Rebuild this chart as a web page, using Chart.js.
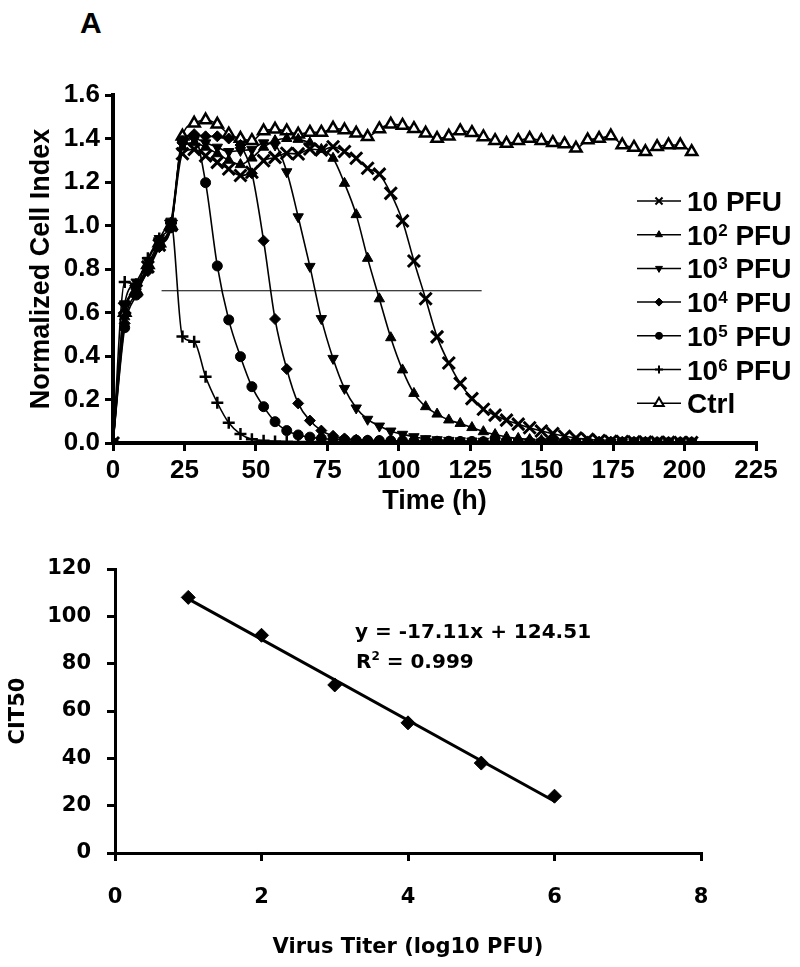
<!DOCTYPE html>
<html lang="en">
<head>
<meta charset="UTF-8">
<title>Cell index kinetics and CIT50 vs virus titer</title>
<script src="https://cdn.jsdelivr.net/npm/chart.js"></script>
<style>
  body { margin: 0; background: #fff; }
  .page { position: relative; width: 800px; height: 967px; overflow: hidden; background: #fff; }
  .panel { position: absolute; left: 0; }
  .tag { position: absolute; left: 80px; top: 8px; font: bold 30px 'Liberation Sans', Arial, sans-serif; line-height: 30px; }
  .eq { position: absolute; font: bold 20px 'DejaVu Sans', sans-serif; line-height: 24px; white-space: nowrap; }
  .eq sup { font-size: 12px; vertical-align: 8px; line-height: 0; }
</style>
</head>
<body>
<div class="page">
  <div class="tag">A</div>
  <canvas id="cellChart" class="panel" style="top:0" width="800" height="530"></canvas>
  <canvas id="titerChart" class="panel" style="top:540px" width="800" height="427"></canvas>
  <div class="eq" id="eqLine" style="left:355px;top:619px"></div>
  <div class="eq" id="eqR2" style="left:356px;top:649px"></div>
</div>

<script>
  // top panel: normalized cell index over time (hours)
  const timeHours = [
    0, 4.1, 8.1, 12.2, 16.2, 20.3, 24.3, 28.4, 32.4, 36.5,
    40.5, 44.6, 48.6, 52.7, 56.7, 60.8, 64.8, 68.9, 72.9, 77.0,
    81.0, 85.1, 89.1, 93.2, 97.2, 101.3, 105.3, 109.4, 113.4, 117.5,
    121.5, 125.6, 129.6, 133.7, 137.7, 141.8, 145.8, 149.9, 153.9, 158.0,
    162.0, 166.1, 170.1, 174.2, 178.2, 182.3, 186.3, 190.4, 194.4, 198.5,
    202.5
  ];
  const pfu1e1 = [
    0, 0.62, 0.70, 0.81, 0.91, 1.00, 1.33, 1.35, 1.32, 1.29,
    1.26, 1.23, 1.245, 1.298, 1.313, 1.332, 1.329, 1.352, 1.347, 1.362,
    1.34, 1.309, 1.263, 1.236, 1.148, 1.021, 0.837, 0.663, 0.488, 0.368,
    0.274, 0.204, 0.155, 0.128, 0.105, 0.087, 0.07, 0.055, 0.043, 0.031,
    0.023, 0.017, 0.011, 0.008, 0.006, 0.005, 0.004, 0.003, 0.003, 0.002,
    0.002
  ];
  const pfu1e2 = [
    0, 0.58, 0.72, 0.80, 0.91, 1.01, 1.36, 1.38, 1.36, 1.33,
    1.30, 1.28, 1.31, 1.36, 1.39, 1.40, 1.396, 1.38, 1.35, 1.309,
    1.194, 1.05, 0.849, 0.663, 0.484, 0.336, 0.228, 0.167, 0.133, 0.106,
    0.09, 0.071, 0.052, 0.039, 0.027, 0.021, 0.016, 0.012, 0.009, 0.007,
    0.006, 0.005, 0.004, 0.004, 0.003, 0.003, 0.003, 0.002, 0.002, 0.002,
    0.002
  ];
  const pfu1e3 = [
    0, 0.64, 0.74, 0.84, 0.94, 1.02, 1.38, 1.40, 1.38, 1.36,
    1.34, 1.345, 1.35, 1.38, 1.37, 1.247, 1.04, 0.812, 0.572, 0.389,
    0.251, 0.161, 0.109, 0.078, 0.055, 0.04, 0.029, 0.02, 0.015, 0.012,
    0.01, 0.009, 0.008, 0.007, 0.006, 0.006, 0.005, 0.005, 0.004, 0.004,
    0.004, 0.003, 0.003, 0.003, 0.003, 0.002, 0.002, 0.002, 0.002, 0.002,
    0.002
  ];
  const pfu1e4 = [
    0, 0.55, 0.69, 0.79, 0.90, 0.99, 1.38, 1.42, 1.41, 1.41,
    1.40, 1.37, 1.24, 0.93, 0.57, 0.34, 0.182, 0.103, 0.057, 0.033,
    0.021, 0.015, 0.012, 0.01, 0.009, 0.008, 0.008, 0.007, 0.007, 0.006,
    0.006, 0.005, 0.005, 0.005, 0.004, 0.004, 0.004, 0.004, 0.003, 0.003,
    0.003, 0.003, 0.003, 0.002, 0.002, 0.002, 0.002, 0.002, 0.002, 0.002,
    0.002
  ];
  const pfu1e5 = [
    0, 0.53, 0.68, 0.80, 0.91, 0.99, 1.39, 1.41, 1.197, 0.814,
    0.566, 0.397, 0.259, 0.167, 0.098, 0.057, 0.037, 0.027, 0.021, 0.017,
    0.015, 0.013, 0.012, 0.011, 0.01, 0.01, 0.009, 0.009, 0.008, 0.008,
    0.007, 0.007, 0.006, 0.006, 0.006, 0.005, 0.005, 0.005, 0.004, 0.004,
    0.004, 0.004, 0.003, 0.003, 0.003, 0.003, 0.003, 0.002, 0.002, 0.002,
    0.002
  ];
  const pfu1e6 = [
    0, 0.74, 0.73, 0.85, 0.94, 1.01, 0.49, 0.466, 0.305, 0.185,
    0.093, 0.041, 0.017, 0.01, 0.007, 0.006, 0.005, 0.005, 0.005, 0.004,
    0.004, 0.004, 0.004, 0.003, 0.003, 0.003, 0.003, 0.003, 0.003, 0.002,
    0.002, 0.002, 0.002, 0.002, 0.002, 0.002, 0.002, 0.002, 0.001, 0.001,
    0.001, 0.001, 0.001, 0.001, 0.001, 0.001, 0.001, 0.001, 0.001, 0.001,
    0.001
  ];
  const ctrl = [
    0, 0.60, 0.70, 0.82, 0.92, 1.00, 1.41, 1.47, 1.485, 1.465,
    1.42, 1.40, 1.39, 1.434, 1.442, 1.434, 1.419, 1.428, 1.428, 1.447,
    1.439, 1.424, 1.408, 1.444, 1.465, 1.46, 1.445, 1.424, 1.40, 1.41,
    1.435, 1.427, 1.407, 1.39, 1.377, 1.39, 1.40, 1.39, 1.381, 1.375,
    1.355, 1.393, 1.40, 1.411, 1.37, 1.359, 1.339, 1.362, 1.37, 1.37,
    1.339
  ];
  const seriesLabels = ['10 PFU', '10² PFU', '10³ PFU', '10⁴ PFU', '10⁵ PFU', '10⁶ PFU', 'Ctrl'];
  const cutoffTimes = [17, 129];
  const cutoffLevel = 0.7;
  const timeTicks = [0, 25, 50, 75, 100, 125, 150, 175, 200, 225];

  // bottom panel: CIT50 against log10 titer
  const titerLog = [1, 2, 3, 4, 5, 6];
  const cit50 = [108, 92, 71, 55, 38, 24];
  const trendSlope = -17.11;
  const trendIntercept = 124.51;
  const trendR2 = 0.999;

  const ARIAL = "'Liberation Sans', Arial, sans-serif";
  const CALIB = "'DejaVu Sans', sans-serif";

  // marker look per series, same order as seriesLabels
  const markerStyles = [
    { style: 'crossRot', radius: 8.5, width: 3, fill: '#000', legendRadius: 5 },
    { style: 'triangle', radius: 6, width: 1, fill: '#000', legendRadius: 4 },
    { style: 'triangle', radius: 6, width: 1, fill: '#000', rotation: 180, legendRadius: 4 },
    { style: 'rectRot', radius: 5.5, width: 1, fill: '#000', legendRadius: 4 },
    { style: 'circle', radius: 5, width: 1, fill: '#000', legendRadius: 3.5 },
    { style: 'cross', radius: 6, width: 2.5, fill: '#000', legendRadius: 4 },
    { style: 'triangle', radius: 6.5, width: 2.5, fill: '#fff', legendRadius: 5.5 }
  ];

  const allSeries = [pfu1e1, pfu1e2, pfu1e3, pfu1e4, pfu1e5, pfu1e6, ctrl];

  function toPoints(xs, ys) {
    return xs.map((x, i) => ({ x: x, y: ys[i] }));
  }

  const cellSets = allSeries.map((vals, i) => {
    const m = markerStyles[i];
    return {
      label: seriesLabels[i],
      data: toPoints(timeHours, vals),
      borderColor: '#000',
      borderWidth: 1.6,
      pointStyle: m.style,
      pointRotation: m.rotation || 0,
      pointRadius: m.radius,
      pointBorderWidth: m.width,
      pointBorderColor: '#000',
      pointBackgroundColor: m.fill,
      cubicInterpolationMode: 'monotone',
      fill: false,
      legendRadius: m.legendRadius,
      inLegend: true
    };
  });
  cellSets.push({
    label: 'cutoff',
    data: cutoffTimes.map(t => ({ x: t, y: cutoffLevel })),
    borderColor: '#000',
    borderWidth: 1.2,
    pointRadius: 0,
    fill: false
  });

  // legend drawn inside the plot, with real superscripts
  const supDigits = { '²': '2', '³': '3', '⁴': '4', '⁵': '5', '⁶': '6' };
  const sideLegend = {
    id: 'sideLegend',
    afterDraw(chart) {
      const ctx = chart.ctx;
      const sets = chart.data.datasets.filter(d => d.inLegend);
      sets.forEach((ds, i) => {
        const y = 201 + i * 33.7;
        ctx.save();
        ctx.strokeStyle = '#000';
        ctx.lineWidth = 1.5;
        ctx.beginPath();
        ctx.moveTo(637, y);
        ctx.lineTo(681, y);
        ctx.stroke();
        ctx.fillStyle = ds.pointBackgroundColor;
        ctx.lineWidth = Math.min(ds.pointBorderWidth, 2);
        Chart.helpers.drawPoint(ctx, {
          pointStyle: ds.pointStyle,
          rotation: ds.pointRotation,
          radius: ds.legendRadius,
          borderWidth: ctx.lineWidth
        }, 659, y);
        ctx.fillStyle = '#000';
        ctx.textBaseline = 'alphabetic';
        ctx.textAlign = 'left';
        let cx = 687;
        const base = y + 10;
        ds.label.split(/([²³⁴⁵⁶])/).forEach(part => {
          if (!part) return;
          if (supDigits[part]) {
            ctx.font = 'bold 17px ' + ARIAL;
            ctx.fillText(supDigits[part], cx, base - 9);
            cx += ctx.measureText(supDigits[part]).width;
          } else {
            ctx.font = 'bold 28px ' + ARIAL;
            ctx.fillText(part, cx, base);
            cx += ctx.measureText(part).width;
          }
        });
        ctx.restore();
      });
    }
  };

  function fixedWidth(w) { return scale => { scale.width = w; }; }
  function fixedHeight(h) { return scale => { scale.height = h; }; }

  new Chart(document.getElementById('cellChart'), {
    type: 'line',
    data: { datasets: cellSets },
    plugins: [sideLegend],
    options: {
      responsive: false,
      animation: false,
      layout: { padding: { top: 95, right: 44, left: 0, bottom: 0 } },
      plugins: { legend: { display: false }, tooltip: { enabled: false } },
      scales: {
        x: {
          type: 'linear',
          min: 0, max: 225,
          afterFit: fixedHeight(87),
          afterBuildTicks: scale => { scale.ticks = timeTicks.map(v => ({ value: v })); },
          ticks: { color: '#000', font: { family: ARIAL, size: 26, weight: 'bold' }, padding: 4, maxRotation: 0 },
          grid: { drawOnChartArea: false, drawTicks: true, tickLength: 8, lineWidth: 3, color: '#000' },
          border: { display: true, width: 4, color: '#000' },
          title: { display: true, text: 'Time (h)', color: '#000', font: { family: ARIAL, size: 27, weight: 'bold' }, padding: { bottom: 12 } }
        },
        y: {
          min: 0, max: 1.6,
          afterFit: fixedWidth(113),
          ticks: { stepSize: 0.2, color: '#000', font: { family: ARIAL, size: 26, weight: 'bold' }, padding: 5,
                   callback: v => v.toFixed(1) },
          grid: { drawOnChartArea: false, drawTicks: true, tickLength: 8, lineWidth: 3, color: '#000' },
          border: { display: true, width: 4, color: '#000' },
          title: { display: true, text: 'Normalized Cell Index', color: '#000', font: { family: ARIAL, size: 27, weight: 'bold' }, padding: { top: 25 } }
        }
      }
    }
  });

  const trendX = [titerLog[0], titerLog[titerLog.length - 1]];

  new Chart(document.getElementById('titerChart'), {
    type: 'scatter',
    data: {
      datasets: [
        {
          label: 'CIT50',
          data: toPoints(titerLog, cit50),
          pointStyle: 'rectRot',
          pointRadius: 7,
          pointBackgroundColor: '#000',
          pointBorderColor: '#000',
          pointBorderWidth: 1
        },
        {
          label: 'Linear fit',
          type: 'line',
          data: trendX.map(x => ({ x: x, y: trendSlope * x + trendIntercept })),
          borderColor: '#000',
          borderWidth: 3,
          pointRadius: 0,
          fill: false
        }
      ]
    },
    options: {
      responsive: false,
      animation: false,
      layout: { padding: { top: 29, right: 99, left: 0, bottom: 0 } },
      plugins: { legend: { display: false }, tooltip: { enabled: false } },
      scales: {
        x: {
          type: 'linear',
          min: 0, max: 8,
          afterFit: fixedHeight(114),
          ticks: { stepSize: 2, color: '#000', font: { family: CALIB, size: 21, weight: 'bold' }, padding: 24 },
          grid: { drawOnChartArea: false, drawTicks: true, tickLength: 8, lineWidth: 3, color: '#000' },
          border: { display: true, width: 3, color: '#000' },
          title: { display: true, text: 'Virus Titer (log10 PFU)', color: '#000', font: { family: CALIB, size: 21, weight: 'bold' }, padding: { bottom: 7 } }
        },
        y: {
          min: 0, max: 120,
          afterFit: fixedWidth(115),
          ticks: { stepSize: 20, color: '#000', font: { family: CALIB, size: 21, weight: 'bold' }, padding: 16 },
          grid: { drawOnChartArea: false, drawTicks: true, tickLength: 8, lineWidth: 3, color: '#000' },
          border: { display: true, width: 3, color: '#000' },
          title: { display: true, text: 'CIT50', color: '#000', font: { family: CALIB, size: 21, weight: 'bold' }, padding: { top: 6 } }
        }
      }
    }
  });

  const sign = trendIntercept < 0 ? ' - ' : ' + ';
  document.getElementById('eqLine').textContent =
    'y = ' + trendSlope.toFixed(2) + 'x' + sign + Math.abs(trendIntercept).toFixed(2);
  document.getElementById('eqR2').innerHTML = 'R<sup>2</sup> = ' + trendR2.toFixed(3);
</script>
</body>
</html>
